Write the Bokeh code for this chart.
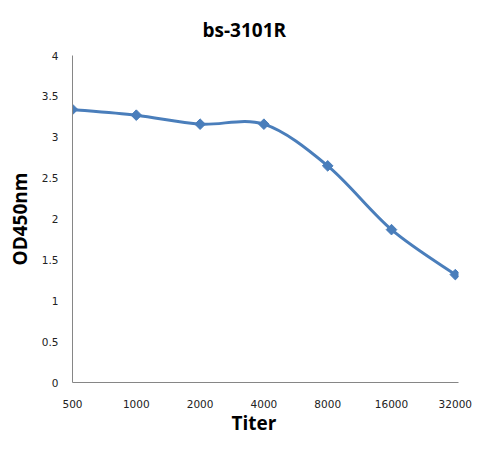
import numpy as np
from bokeh.plotting import figure
from bokeh.models import FixedTicker, Range1d, Title
from bokeh.embed import file_html
from bokeh.resources import INLINE

# ---- data ----
titers = ["500", "1000", "2000", "4000", "8000", "16000", "32000"]
od450 = [3.34, 3.27, 3.16, 3.16, 2.65, 1.87, 1.32]
y_ticks = [0, 0.5, 1, 1.5, 2, 2.5, 3, 3.5, 4]
title_text = "bs-3101R"
x_label = "Titer"
y_label = "OD450nm"

BLUE = "#4A7EBB"
AXIS = "#868686"

p = figure(width=474, height=436, output_backend="svg", toolbar_location=None,
           x_range=Range1d(0, 6.05), y_range=Range1d(0, 4),
           min_border_left=72, min_border_right=16, min_border_top=55, min_border_bottom=54)
p.outline_line_color = None
p.xgrid.visible = False
p.ygrid.visible = False
p.background_fill_color = "white"
p.border_fill_color = "white"

xs = list(range(len(titers)))

# Smooth curve through the points (Catmull-Rom style), drawn as bezier segments
n = len(xs)
x0, y0, x1, y1, cx0, cy0, cx1, cy1 = [], [], [], [], [], [], [], []
for i in range(n - 1):
    pm = i - 1 if i > 0 else i
    pp = i + 2 if i + 2 < n else i + 1
    x0.append(xs[i]); y0.append(od450[i])
    x1.append(xs[i + 1]); y1.append(od450[i + 1])
    cx0.append(xs[i] + (xs[i + 1] - xs[pm]) / 6.0)
    cy0.append(od450[i] + (od450[i + 1] - od450[pm]) / 6.0)
    cx1.append(xs[i + 1] - (xs[pp] - xs[i]) / 6.0)
    cy1.append(od450[i + 1] - (od450[pp] - od450[i]) / 6.0)
p.bezier(x0=x0, y0=y0, x1=x1, y1=y1, cx0=cx0, cy0=cy0, cx1=cx1, cy1=cy1,
         line_color=BLUE, line_width=3)
p.scatter(xs, od450, marker="square", angle=np.pi / 4, size=7.5,
          fill_color=BLUE, line_color=BLUE)

p.xaxis.ticker = FixedTicker(ticks=xs)
p.xaxis.major_label_overrides = {i: t for i, t in enumerate(titers)}
p.yaxis.ticker = FixedTicker(ticks=y_ticks)
p.yaxis.major_label_overrides = {0: "0", 1: "1", 2: "2", 3: "3", 4: "4"}
for ax in (p.xaxis, p.yaxis):
    ax.axis_line_color = AXIS
    ax.axis_line_width = 1
    ax.major_tick_line_color = None
    ax.minor_tick_line_color = None
    ax.major_label_text_font = "DejaVu Sans"
    ax.major_label_text_font_size = "10.5px"
    ax.major_label_text_color = "#222222"
p.yaxis.major_label_standoff = 8
p.xaxis.major_label_standoff = 11

p.yaxis.axis_label = y_label
p.yaxis.axis_label_text_font = "Open Sans"
p.yaxis.axis_label_text_font_style = "bold"
p.yaxis.axis_label_text_font_size = "19px"
p.yaxis.axis_label_text_color = "#000000"
p.yaxis.axis_label_standoff = 6

p.add_layout(Title(text=title_text, align="left", offset=130, standoff=26,
                   text_font="Open Sans", text_font_style="bold", text_font_size="19px",
                   text_color="#000000"), "above")
p.add_layout(Title(text=x_label, align="left", offset=159, standoff=-5,
                   text_font="Open Sans", text_font_style="bold", text_font_size="19px",
                   text_color="#000000"), "below")

open("out.html", "w").write(file_html(p, INLINE))
